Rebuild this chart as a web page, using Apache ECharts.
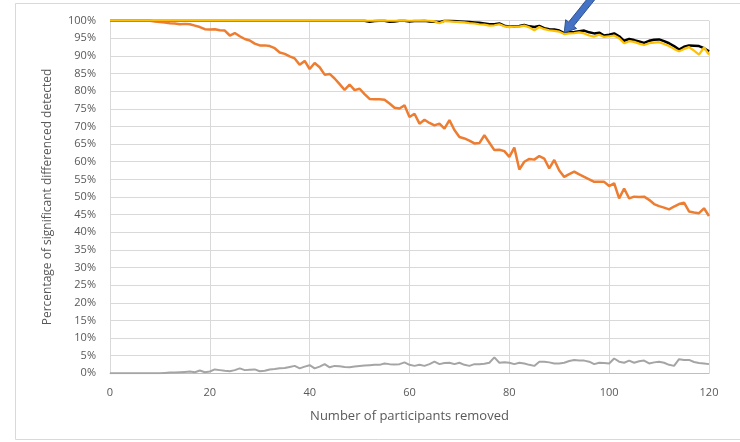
<!DOCTYPE html>
<html>
<head>
<meta charset="utf-8">
<script src="https://cdn.jsdelivr.net/npm/echarts@6/dist/echarts.min.js"></script>
<style>html,body{margin:0;padding:0;background:#fff}#c{width:740px;height:442px}</style>
</head>
<body>
<div id="c"></div>
<script>
// x: number of participants removed (0..120)
var participantsRemoved = [];
for (var i = 0; i <= 120; i++) participantsRemoved.push(i);

var xTicks = [0, 20, 40, 60, 80, 100, 120];
var yTicks = [0,5,10,15,20,25,30,35,40,45,50,55,60,65,70,75,80,85,90,95,100];

var blackSeries = [
100,100,100,100,100,100,100,100,100,100,
100,100,100,100,100,100,100,100,100,100,
100,100,100,100,100,100,100,100,100,100,
100,100,100,100,100,100,100,100,100,100,
100,100,100,100,100,100,100,100,100,100,
100,100,99.7,99.9,100,100,99.7,99.8,100,100,
99.8,99.9,99.9,100,99.8,99.7,99.6,100,100,99.9,
99.8,99.7,99.6,99.5,99.4,99.2,99.0,99.0,99.2,98.6,
98.3,98.4,98.5,98.8,98.4,98.2,98.5,97.9,97.6,97.5,
97.2,96.5,96.7,96.8,97.0,97.2,96.7,96.4,96.6,95.8,
96.0,96.4,95.6,94.3,94.8,94.5,94.1,93.7,94.3,94.6,
94.7,94.2,93.6,92.8,91.8,92.6,93.0,92.9,92.8,92.2,
91.3
];

var yellowSeries = [
100,100,100,100,100,100,100,100,100,100,
100,100,100,100,100,100,100,100,100,100,
100,100,100,100,100,100,100,100,100,100,
100,100,100,100,100,100,100,100,100,100,
100,100,100,100,100,100,100,100,100,100,
100,100,100,100,100,100,100,100,100,100,
100,100,100,100,100,99.8,99.3,99.9,99.8,99.7,
99.6,99.5,99.3,99.2,99.0,98.9,98.6,98.7,99.0,98.4,
98.2,98.3,98.3,98.6,98.1,97.3,98.2,97.6,97.3,97.1,
96.9,96.2,96.4,96.5,96.7,96.4,95.8,95.5,96.0,95.4,
95.6,95.8,95.0,93.6,94.2,94.0,93.5,93.1,93.6,93.8,
93.9,93.4,92.8,92.0,91.3,92.0,92.5,91.5,90.4,92.4,
90.4
];

var orangeSeries = [
100,100,100,100,100,100,100,100,100,99.8,
99.6,99.5,99.3,99.2,99.0,99.1,99.0,98.6,98.2,97.6,
97.5,97.6,97.3,97.2,95.8,96.5,95.6,94.8,94.4,93.5,
93.0,93.0,92.8,92.2,91.0,90.6,89.9,89.3,87.5,88.6,
86.3,88.0,86.8,84.7,84.9,83.6,82.0,80.4,81.9,80.3,
80.7,79.2,77.8,77.7,77.7,77.6,76.5,75.3,75.1,76.0,
72.7,73.6,70.8,71.9,71.0,70.3,70.8,69.4,71.8,69.0,
67.0,66.6,66.0,65.2,65.3,67.5,65.4,63.3,63.4,63.0,
61.4,64.0,57.8,60.0,60.8,60.6,61.6,60.9,58.1,60.5,
57.5,55.7,56.5,57.2,56.4,55.7,55.0,54.3,54.3,54.3,
53.1,53.9,49.6,52.4,49.6,50.1,50.0,50.1,49.2,48.0,
47.4,47.0,46.5,47.3,48.0,48.4,45.9,45.6,45.4,46.8,
44.6
];

var graySeries = [
0,0,0,0,0,0,0,0,0,0,
0,0.1,0.2,0.2,0.3,0.4,0.5,0.3,0.8,0.3,
0.5,1.1,0.9,0.7,0.6,0.9,1.4,0.9,1.0,1.1,
0.6,0.7,1.1,1.2,1.4,1.5,1.8,2.1,1.4,1.9,
2.3,1.4,1.9,2.6,1.7,2.1,2.0,1.8,1.7,1.9,
2.1,2.2,2.3,2.4,2.4,2.8,2.6,2.5,2.6,3.1,
2.4,2.1,2.4,2.1,2.6,3.3,2.6,2.9,3.0,2.6,
3.0,2.4,2.1,2.6,2.6,2.7,3.0,4.5,3.0,3.1,
3.0,2.6,3.0,2.8,2.4,2.1,3.3,3.3,3.1,2.8,
2.8,3.0,3.5,3.8,3.6,3.6,3.3,2.6,3.0,2.9,
2.8,4.2,3.3,3.0,3.6,3.0,3.4,3.6,2.8,3.1,
3.3,3.0,2.4,2.1,4.0,3.8,3.8,3.2,2.9,2.8,
2.6
];

// arrow annotation target (data coords)
var arrowTarget = [91, 96.6];

function pairs(arr) {
  return arr.map(function (v, i) { return [participantsRemoved[i], v]; });
}

var font = 'Open Sans, Calibri, sans-serif';
var chart = echarts.init(document.getElementById('c'), null, { renderer: 'canvas' });

var option = {
  backgroundColor: '#fff',
  animation: false,
  grid: { left: 110, right: 31, top: 20.7, bottom: 68.7, containLabel: false },
  xAxis: {
    type: 'value',
    min: 0, max: 120, interval: 20,
    name: 'Number of participants removed',
    nameLocation: 'middle',
    nameGap: 36,
    nameTextStyle: { color: '#595959', fontSize: 13, fontFamily: font },
    axisLine: { show: true, lineStyle: { color: '#BFBFBF', width: 1 } },
    axisTick: { show: false },
    axisLabel: {
      color: '#595959', fontSize: 11, fontFamily: font, margin: 14,
      customValues: xTicks
    },
    splitLine: { show: true, lineStyle: { color: '#D9D9D9', width: 1 } }
  },
  yAxis: {
    type: 'value',
    min: 0, max: 100, interval: 5,
    name: 'Percentage of significant differenced detected',
    nameLocation: 'middle',
    nameGap: 56,
    nameTextStyle: { color: '#595959', fontSize: 12, fontFamily: font },
    axisLine: { show: false },
    axisTick: { show: false },
    axisLabel: {
      color: '#595959', fontSize: 11, fontFamily: font, margin: 14,
      formatter: function (v) { return v + '%'; }
    },
    splitLine: { show: true, lineStyle: { color: '#D9D9D9', width: 1 } }
  },
  series: [
    { type: 'line', data: pairs(graySeries), showSymbol: false, lineStyle: { color: '#A5A5A5', width: 2 }, z: 2 },
    { type: 'line', data: pairs(orangeSeries), showSymbol: false, lineStyle: { color: '#ED7D31', width: 2.5 }, z: 3 },
    { type: 'line', data: pairs(blackSeries), showSymbol: false, lineStyle: { color: '#000000', width: 2.5 }, z: 4 },
    { type: 'line', data: pairs(yellowSeries), showSymbol: false, lineStyle: { color: '#FFC000', width: 2.2 }, z: 5 }
  ],
  graphic: [
    { type: 'rect', shape: { x: 15.5, y: 3.5, width: 740, height: 436 }, style: { fill: 'none', stroke: '#D9D9D9', lineWidth: 1 }, silent: true, z: -1 }
  ]
};
chart.setOption(option);

// blue arrow pointing at arrowTarget
var tip = chart.convertToPixel({ gridIndex: 0 }, arrowTarget);
var dx = 0.625, dy = -0.78; // direction from tip back along the arrow
var nx = -dy, ny = dx;      // normal
var headLen = 11, headHalf = 7, shaftHalf = 3.2, shaftLen = 50;
function P(a, b) { return [tip[0] + dx * a + nx * b, tip[1] + dy * a + ny * b]; }
var pts = [
  P(0, 0),
  P(headLen, headHalf),
  P(headLen, shaftHalf),
  P(shaftLen, shaftHalf),
  P(shaftLen, -shaftHalf),
  P(headLen, -shaftHalf),
  P(headLen, -headHalf)
];
chart.setOption({
  graphic: [
    { type: 'rect', shape: { x: 15.5, y: 3.5, width: 740, height: 436 }, style: { fill: 'none', stroke: '#D9D9D9', lineWidth: 1 }, silent: true, z: -1 },
    { type: 'polygon', shape: { points: pts }, style: { fill: '#4472C4', stroke: '#2F528F', lineWidth: 1 }, z: 100 }
  ]
});
</script>
</body>
</html>
